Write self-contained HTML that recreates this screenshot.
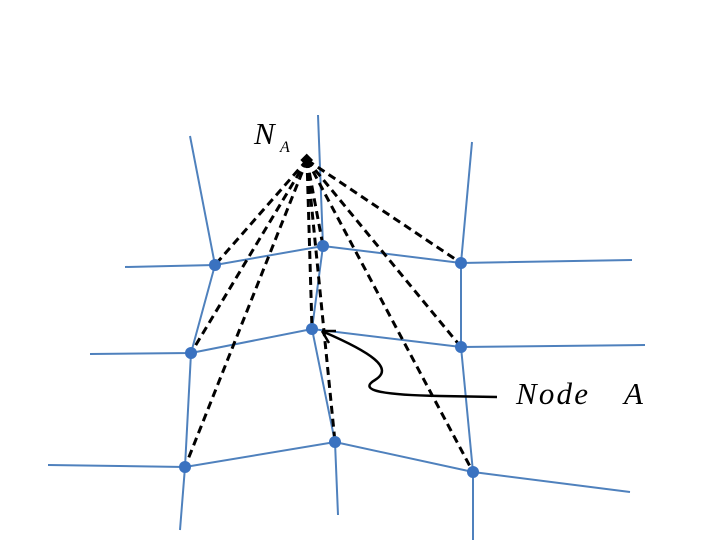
<!DOCTYPE html>
<html><head><style>body{margin:0;background:#fff}</style></head><body>
<svg width="720" height="540" xmlns="http://www.w3.org/2000/svg">
<g stroke="#4f81bd" stroke-width="2" fill="none">
<polyline points="125,267 215,265 323,246 461,263 632,260"/>
<polyline points="90,354 191,353 312,329 461,347 645,345"/>
<polyline points="48,465 185,467 335,442 473,472 630,492"/>
<polyline points="190,136 215,265 191,353 185,467 180,530"/>
<polyline points="318,115 323,246 312,329 335,442 338,515"/>
<polyline points="472,142 461,263 461,347 473,472 473,540"/>
</g>
<g stroke="#000" stroke-width="3" stroke-dasharray="8,5" fill="none">
<line x1="307" y1="160" x2="215" y2="265"/>
<line x1="307" y1="160" x2="191" y2="353"/>
<line x1="307" y1="160" x2="185" y2="467"/>
<line x1="307" y1="160" x2="312" y2="329"/>
<line x1="307" y1="160" x2="323" y2="246"/>
<line x1="307" y1="160" x2="335" y2="442"/>
<line x1="307" y1="160" x2="461" y2="263"/>
<line x1="307" y1="160" x2="461" y2="347"/>
<line x1="307" y1="160" x2="473" y2="472"/>
</g>
<g fill="#3a72c0">
<circle cx="215" cy="265" r="6"/><circle cx="323" cy="246" r="6"/><circle cx="461" cy="263" r="6"/>
<circle cx="191" cy="353" r="6"/><circle cx="312" cy="329" r="6"/><circle cx="461" cy="347" r="6"/>
<circle cx="185" cy="467" r="6"/><circle cx="335" cy="442" r="6"/><circle cx="473" cy="472" r="6"/>
</g>
<rect x="302" y="155" width="9" height="9" transform="rotate(45 306 160)" fill="#000"/>
<path d="M497,397 L440,396 C380,395 358,390 375,380 C395,368 370,352 324,332" stroke="#000" stroke-width="2.5" fill="none"/>
<path d="M322,331 L336,331 M322,331 L329,343" stroke="#000" stroke-width="2.5" fill="none"/>
<g font-family="Liberation Serif, serif" font-style="italic" fill="#000">
<text x="254" y="144" font-size="31">N</text>
<text x="280" y="152" font-size="16">A</text>
<text x="516" y="404" font-size="31" textLength="72">Node</text>
<text x="624" y="404" font-size="31">A</text>
</g>
</svg>
</body></html>
